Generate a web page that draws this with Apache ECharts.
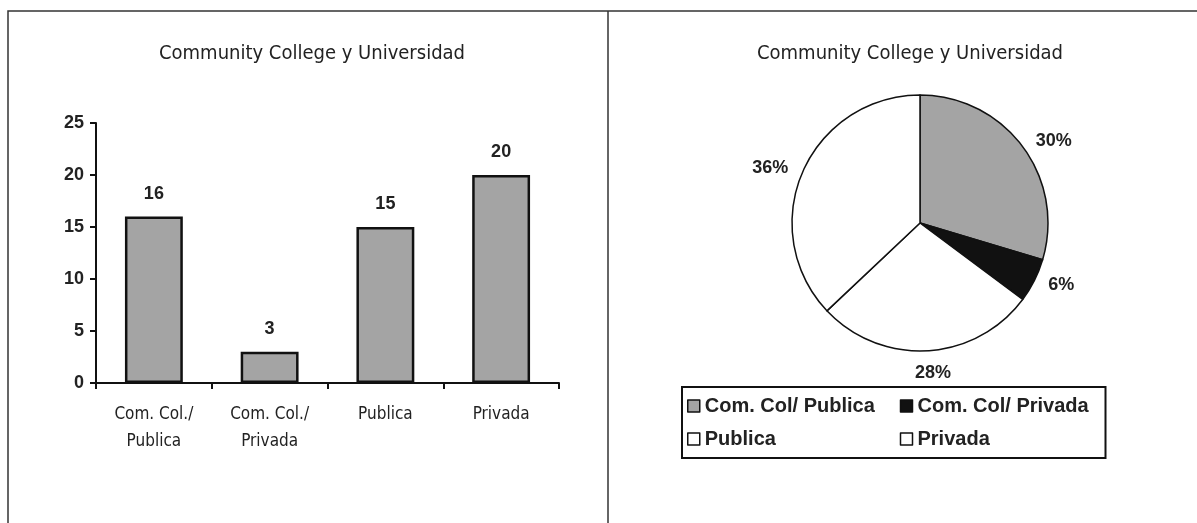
<!DOCTYPE html>
<html>
<head>
<meta charset="utf-8">
<script src="https://cdn.jsdelivr.net/npm/echarts@6/dist/echarts.min.js"></script>
<style>
	html, body { margin: 0; padding: 0; background: #fff; }
	#chart { width: 1197px; height: 523px; }
</style>
</head>
<body>
<div id="chart"></div>
<script>
	// datos
	var titleText = 'Community College y Universidad';
	var barCategories = ['Com. Col./\nPublica', 'Com. Col./\nPrivada', 'Publica', 'Privada'];
	var barValues = [16, 3, 15, 20];
	var pieNames = ['Com. Col/ Publica', 'Com. Col/ Privada', 'Publica', 'Privada'];
	var pieValues = [16, 3, 15, 20];
	var pieLabels = ['30%', '6%', '28%', '36%'];
	var pieColors = ['#a4a4a4', '#111111', '#ffffff', '#ffffff'];
	var yTicks = [0, 5, 10, 15, 20, 25];

	var narrow = '"DejaVu Sans Condensed", "Liberation Sans Narrow", Arial, sans-serif';
	var bold = '"Liberation Sans", Arial, sans-serif';

	var chart = echarts.init(document.getElementById('chart'));

	var pieData = [];
	for (var i = 0; i < pieNames.length; i++) {
		pieData.push({
			name: pieNames[i],
			value: pieValues[i],
			itemStyle: { color: pieColors[i] }
		});
	}

	var option = {
		animation: false,
		backgroundColor: '#fff',
		title: [{
			text: titleText,
			left: 307,
			top: 39,
			textAlign: 'center',
			textStyle: { fontFamily: narrow, fontSize: 20, fontWeight: 'normal', color: '#222' }
		}, {
			text: titleText,
			left: 905,
			top: 39,
			textAlign: 'center',
			textStyle: { fontFamily: narrow, fontSize: 20, fontWeight: 'normal', color: '#222' }
		}],
		grid: {
			left: 96,
			right: 638,
			top: 123,
			bottom: 140,
			containLabel: false
		},
		xAxis: {
			type: 'category',
			data: barCategories,
			axisLine: { lineStyle: { color: '#111', width: 2 } },
			axisTick: { show: true, length: 6, lineStyle: { color: '#111', width: 2 } },
			axisLabel: {
				margin: 18,
				fontFamily: narrow,
				fontSize: 17,
				lineHeight: 27,
				color: '#222'
			}
		},
		yAxis: {
			type: 'value',
			min: yTicks[0],
			max: yTicks[yTicks.length - 1],
			interval: 5,
			splitLine: { show: false },
			axisLine: { show: true, lineStyle: { color: '#111', width: 2 } },
			axisTick: { show: true, length: 6, lineStyle: { color: '#111', width: 2 } },
			axisLabel: {
				margin: 12,
				fontFamily: bold,
				fontWeight: 'bold',
				fontSize: 18,
				color: '#222'
			}
		},
		legend: {
			data: pieNames,
			left: 682,
			top: 387,
			width: 424,
			orient: 'horizontal',
			itemWidth: 12,
			itemHeight: 12,
			itemGap: 13,
			itemTextGap: 6,
			padding: [9, 6, 9, 5],
			borderColor: '#111',
			borderWidth: 2,
			icon: 'rect',
			itemStyle: { borderColor: '#111', borderWidth: 1.5 },
			textStyle: {
				fontFamily: bold,
				fontWeight: 'bold',
				fontSize: 20,
				lineHeight: 20,
				width: 182,
				color: '#222'
			}
		},
		series: [{
			type: 'bar',
			data: barValues,
			barWidth: '50%',
			itemStyle: { color: '#a4a4a4', borderColor: '#111', borderWidth: 2.5 },
			label: {
				show: true,
				position: 'top',
				distance: 14,
				fontFamily: bold,
				fontWeight: 'bold',
				fontSize: 18,
				color: '#222'
			}
		}, {
			type: 'pie',
			center: [920, 223],
			radius: 128,
			startAngle: 90,
			clockwise: true,
			data: pieData,
			itemStyle: { borderColor: '#111', borderWidth: 1.5 },
			label: {
				show: true,
				position: 'outside',
				fontFamily: bold,
				fontWeight: 'bold',
				fontSize: 18,
				color: '#222',
				formatter: function(p) {
					return pieLabels[p.dataIndex];
				}
			},
			labelLine: { show: false, length: 10, length2: 0 },
			labelLayout: function(params) {
				// la etiqueta de abajo va centrada bajo el pastel
				if (params.dataIndex === 2) {
					return { align: 'center', dy: 12 };
				}
				return {};
			},
			emphasis: { disabled: true }
		}],
		graphic: [{
			type: 'polyline',
			shape: { points: [[8, 523], [8, 11], [1197, 11]] },
			style: { stroke: '#333', lineWidth: 1.5, fill: null }
		}, {
			type: 'line',
			shape: { x1: 608, y1: 11, x2: 608, y2: 523 },
			style: { stroke: '#333', lineWidth: 1.5 }
		}]
	};

	chart.setOption(option);
</script>
</body>
</html>
